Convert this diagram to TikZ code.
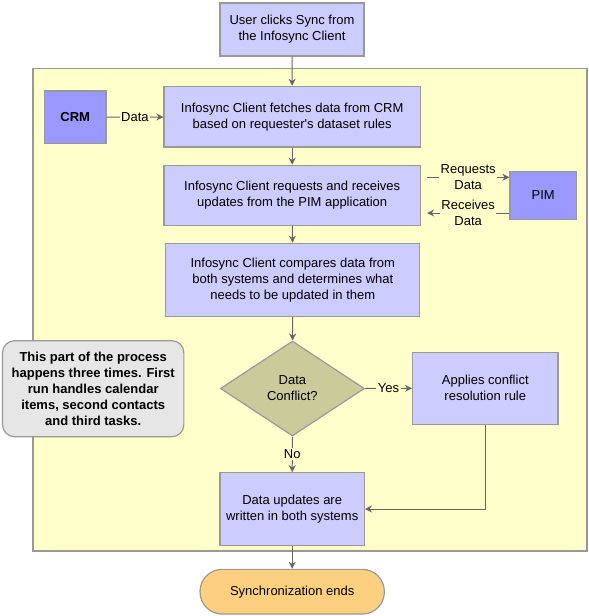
\documentclass[tikz,border=0pt]{standalone}
\usepackage{fontspec}
\setmainfont{Liberation Sans}[Ligatures=TeXOff]
\usetikzlibrary{shapes.geometric,arrows.meta,calc}
\definecolor{boxfill}{HTML}{CCCCFF}
\definecolor{sysfill}{HTML}{9999FF}
\definecolor{bordergray}{HTML}{999999}
\definecolor{arrowgray}{HTML}{666666}
\definecolor{yellowbg}{HTML}{FFFFCC}
\definecolor{diafill}{HTML}{CACA9A}
\definecolor{notefill}{HTML}{E6E6E6}
\definecolor{endfill}{HTML}{FCD07E}
\begin{document}
\begin{tikzpicture}[x=1pt,y=-1pt,
  font=\fontsize{13}{16}\selectfont,
  box/.style={draw=bordergray, line width=1.2pt, fill=boxfill, align=center, inner sep=0pt},
  sysbox/.style={box, fill=sysfill},
  arr/.style={draw=arrowgray, line width=1pt, -{Stealth[length=7pt,width=7pt]}},
  plain/.style={draw=arrowgray, line width=1pt},
  lbl/.style={fill=yellowbg, inner sep=1.5pt, align=center}]
\useasboundingbox (0,0) rectangle (589,616);

% region
\node[draw=bordergray, fill=yellowbg, line width=1.2pt, minimum width=554pt, minimum height=482.7pt, inner sep=0pt] (zone) at (309.9,309.65) {};

% nodes
\node[box, minimum width=144pt, minimum height=53pt] (top) at (292,29.4) {User clicks Sync from\\the Infosync Client};
\node[box, minimum width=256.5pt, minimum height=60.7pt] (fetch) at (292.2,116.7) {Infosync Client fetches data from CRM\\based on requester's dataset rules};
\node[sysbox, minimum width=61.4pt, minimum height=52.3pt, font=\fontsize{13}{16}\selectfont\bfseries] (crm) at (75.2,117.2) {CRM};
\node[box, minimum width=256.5pt, minimum height=60pt] (req) at (292.2,195.3) {Infosync Client requests and receives\\updates from the PIM application};
\node[sysbox, minimum width=66.5pt, minimum height=47.6pt] (pim) at (543.2,195.5) {PIM};
\node[box, minimum width=254pt, minimum height=73pt] (cmp) at (292.8,279.8) {Infosync Client compares data from\\both systems and determines what\\needs to be updated in them};
\node[diamond, draw=bordergray, line width=1.2pt, fill=diafill, align=center, inner sep=0pt, minimum width=144pt, minimum height=95pt] (dia) at (292.4,388.5) {Data\\Conflict?};
\node[box, minimum width=145.4pt, minimum height=72pt] (apply) at (485.3,388.3) {Applies conflict\\resolution rule};
\node[box, minimum width=144.4pt, minimum height=72.6pt] (upd) at (292.2,509) {Data updates are\\written in both systems};
\node[draw=bordergray, line width=1.2pt, fill=endfill, rounded corners=22pt, minimum width=184.3pt, minimum height=44.7pt, inner sep=0pt] (end) at (292.2,591.7) {Synchronization ends};
\node[draw=bordergray, line width=1.2pt, fill=notefill, rounded corners=12pt, minimum width=181.3pt, minimum height=96pt, inner sep=0pt, align=center, font=\fontsize{13}{16}\selectfont\bfseries] (note) at (93.2,388.7) {This part of the process\\happens three times. First\\run handles calendar\\items, second contacts\\and third tasks.};

% helper coordinates
\coordinate (rq) at ([yshift=18.2pt]pim.west);
\coordinate (rc) at ([yshift=-17.5pt]pim.west);

% connectors
\draw[arr] (top) -- (fetch);
\draw[arr] (crm) -- node[lbl] {Data} (fetch);
\draw[arr] (fetch) -- (req);
\draw[arr] ([xshift=6pt]req.east |- rq) -- node[lbl] {Requests\\Data} (rq);
\draw[arr] (rc) -- node[lbl] {Receives\\Data} ([xshift=6pt]req.east |- rc);
\draw[arr] (req) -- (cmp);
\draw[arr] (cmp) -- (dia);
\draw[arr] (dia.east) -- node[lbl] {Yes} (apply.west);
\draw[arr] (dia.south) -- node[lbl] {No} (upd.north);
\draw[arr] (apply.south) |- (upd.east);
\draw[arr] (upd) -- (end);
\end{tikzpicture}
\end{document}
